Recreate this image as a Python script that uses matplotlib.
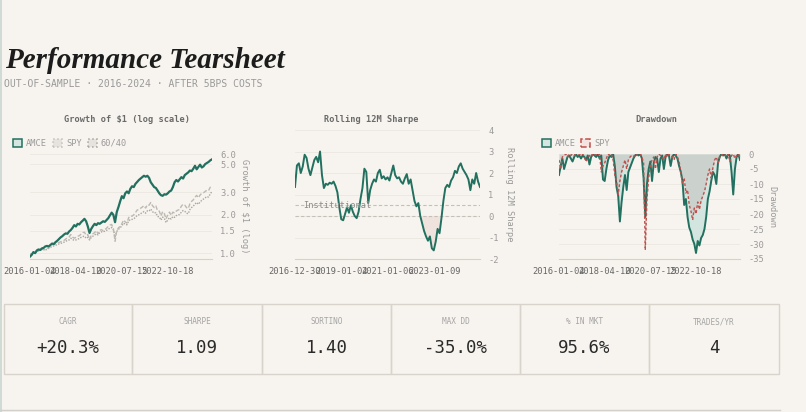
import numpy as np
import pandas as pd
import matplotlib
matplotlib.use('Agg')
import matplotlib.pyplot as plt
from matplotlib.patches import Rectangle
import matplotlib.ticker as mticker

plt.rcParams['axes.unicode_minus'] = False
MONO = 'DejaVu Sans Mono'

# ---- data (monthly) ----
amce_growth = [
    0.94, 0.97, 1.02, 1.00, 1.05, 1.07, 1.06, 1.09, 1.10, 1.13, 1.14, 1.13,
    1.16, 1.19, 1.18, 1.22, 1.25, 1.29, 1.33, 1.36, 1.40, 1.43, 1.42, 1.48,
    1.52, 1.58, 1.66, 1.62, 1.70, 1.68, 1.75, 1.80, 1.86, 1.78, 1.62, 1.44,
    1.55, 1.63, 1.70, 1.66, 1.72, 1.70, 1.74, 1.78, 1.76, 1.82, 1.88, 1.98,
    2.08, 2.00, 1.75, 2.10, 2.30, 2.55, 2.80, 2.70, 2.95, 3.05, 2.95, 3.20,
    3.35, 3.30, 3.50, 3.62, 3.75, 3.85, 3.95, 4.05, 3.98, 4.05, 3.90, 3.60,
    3.45, 3.30, 3.25, 3.10, 2.95, 2.85, 2.82, 2.90, 2.88, 2.95, 3.05, 3.10,
    3.30, 3.60, 3.75, 3.65, 3.80, 3.95, 3.85, 4.10, 4.20, 4.30, 4.45, 4.40,
    4.60, 4.85, 4.55, 4.75, 4.95, 4.70, 4.80, 5.00, 5.10, 5.20, 5.35, 5.45,
]
spy_growth = [
    0.97, 0.99, 1.01, 1.02, 1.03, 1.04, 1.06, 1.07, 1.07, 1.06, 1.09, 1.11,
    1.13, 1.16, 1.17, 1.18, 1.20, 1.21, 1.23, 1.24, 1.26, 1.29, 1.32, 1.34,
    1.40, 1.34, 1.31, 1.33, 1.36, 1.37, 1.41, 1.45, 1.46, 1.38, 1.40, 1.28,
    1.38, 1.42, 1.45, 1.50, 1.42, 1.51, 1.53, 1.50, 1.53, 1.57, 1.62, 1.66,
    1.68, 1.56, 1.24, 1.50, 1.58, 1.62, 1.70, 1.82, 1.76, 1.72, 1.90, 1.96,
    1.95, 2.00, 2.08, 2.18, 2.20, 2.25, 2.30, 2.36, 2.26, 2.40, 2.38, 2.50,
    2.36, 2.28, 2.35, 2.15, 2.14, 1.96, 2.12, 2.04, 1.86, 2.00, 2.10, 1.98,
    2.10, 2.06, 2.14, 2.18, 2.20, 2.34, 2.42, 2.38, 2.28, 2.24, 2.44, 2.55,
    2.62, 2.75, 2.84, 2.72, 2.86, 2.95, 2.98, 3.05, 3.12, 3.10, 3.30, 3.40,
]
b6040_growth = [
    0.98, 0.99, 1.01, 1.02, 1.03, 1.05, 1.06, 1.06, 1.07, 1.06, 1.07, 1.09,
    1.11, 1.13, 1.14, 1.15, 1.17, 1.18, 1.19, 1.21, 1.22, 1.24, 1.26, 1.27,
    1.31, 1.28, 1.26, 1.27, 1.29, 1.30, 1.33, 1.35, 1.36, 1.31, 1.33, 1.27,
    1.33, 1.36, 1.39, 1.42, 1.39, 1.45, 1.47, 1.47, 1.49, 1.51, 1.54, 1.57,
    1.59, 1.53, 1.34, 1.48, 1.54, 1.58, 1.64, 1.72, 1.69, 1.67, 1.79, 1.84,
    1.84, 1.86, 1.91, 1.98, 2.00, 2.04, 2.08, 2.12, 2.06, 2.15, 2.14, 2.22,
    2.12, 2.06, 2.08, 1.94, 1.93, 1.82, 1.92, 1.87, 1.74, 1.82, 1.90, 1.85,
    1.94, 1.91, 1.97, 2.00, 2.01, 2.10, 2.16, 2.13, 2.06, 2.04, 2.20, 2.28,
    2.34, 2.43, 2.50, 2.42, 2.52, 2.60, 2.66, 2.72, 2.78, 2.76, 2.92, 3.05,
]
sharpe_12m = [
    1.35,
    2.35, 2.45, 2.00, 2.30, 2.85, 2.70, 2.20, 1.90, 2.25, 2.60, 2.75, 2.50,
    3.00, 1.90, 1.30, 1.50, 1.45, 1.55, 1.50, 1.60, 1.40, 1.10, 0.40, -0.15,
    -0.20, 0.10, 0.40, 0.15, 0.50, 0.20, 0.00, -0.10, 0.20, 0.80, 1.30, 2.20,
    2.05, 0.60, 1.20, 1.50, 1.70, 1.60, 2.00, 2.15, 1.75, 1.85, 1.70, 1.80,
    1.65, 2.00, 2.35, 1.90, 1.75, 1.80, 1.60, 1.50, 1.75, 1.95, 1.50, 1.70,
    1.20, 0.70, 0.45, 0.60, 0.00, -0.35, -0.70, -0.95, -1.15, -0.95, -1.50, -1.60,
    -1.20, -0.60, -0.80, -0.10, 0.70, 1.30, 1.45, 1.35, 1.65, 1.80, 2.10, 2.00,
    2.30, 2.45, 2.20, 2.05, 1.90, 1.70, 1.20, 1.70, 1.50, 2.00, 1.60, 1.35,
]
amce_dd = [
    -7, -4, -1.5, -5, -3, -1, -0.5, -1.5, -2.5, -1, 0, -1,
    -0.5, -1.5, -0.5, -1, -2, -0.5, -3.5, -1, 0, -0.5, -1, 0,
    -1.5, -0.5, -8.5, -9, -5, -2, -0.5, -1, 0, -4, -11, -14,
    -22.5, -16, -11, -7, -12, -6, -4.5, -3, -1.5, -0.5, 0, -0.5,
    0, -1.5, -8, -21, -10, -5, -2.5, -9, -3, -1, -1.5, -6,
    -1.5, -0.5, -5, -1, 0, -0.5, -4, -1, 0, -0.5, -1.5, -4,
    -6, -9, -17, -15, -21, -24.5, -26, -28.5, -30, -33, -29, -30.5,
    -28, -27, -25, -21, -15, -12.5, -9, -6, -7, -10, -3, -1,
    0, -0.5, 0, -1.5, 0, -0.5, -6, -13.5, -5, -1, 0, -2,
]
spy_dd = [
    -2, -5, -1, -0.5, 0, -1, 0, -0.5, 0, -0.5, 0, 0,
    0, -0.5, 0, -1, -2.5, -1.5, -0.5, -1, 0, -0.5, 0, -0.5,
    0, -6, -4, -3, -1.5, 0, -0.5, 0, -2, -7, -9, -13.5,
    -9, -6, -4, -2, -5, -2, -1, -0.5, -1, 0, -0.5, 0,
    0, -1, -3, -32, -15, -8, -4, -2, -1, -5, -1, 0,
    -0.5, -1, -2, 0, -1, 0, -0.5, -1, -2, 0, -1, -2.5,
    -6, -10, -8, -13, -12, -17, -19, -22, -18, -20, -16, -18.5,
    -15.5, -14, -12.5, -10, -7, -5, -8, -4.5, -2, -1, -3, -1,
    0, -0.5, 0, -1, 0, -2.5, -0.5, 0, -1.5, -0.5, 0, -1,
]

growth_ticks = ['2016-01-04', '2018-04-10', '2020-07-15', '2022-10-18']
sharpe_ticks = ['2016-12-30', '2019-01-04', '2021-01-06', '2023-01-09']

metric_labels = ['CAGR', 'SHARPE', 'SORTINO', 'MAX DD', '% IN MKT', 'TRADES/YR']
metric_values = ['+20.3%', '1.09', '1.40', '-35.0%', '95.6%', '4']

dates = pd.date_range('2016-01-04', '2024-12-31', periods=len(amce_growth))
sdates = pd.date_range('2016-12-30', '2024-12-31', periods=len(sharpe_12m))

# ---- style ----
BG = '#f7f4ef'
TEAL = '#22705f'
RED = '#c0504d'
GRID = '#ebe7e0'

W, H = 806, 412
fig = plt.figure(figsize=(W / 100, H / 100), dpi=100, facecolor=BG)


def box(x0, y0, x1, y1):
    return [x0 / W, 1 - y1 / H, (x1 - x0) / W, (y1 - y0) / H]


def fx(x):
    return x / W


def fy(y):
    return 1 - y / H


def style(ax):
    ax.set_facecolor(BG)
    for s in ['top', 'left', 'right']:
        ax.spines[s].set_visible(False)
    ax.spines['bottom'].set_color('#d6d2ca')
    ax.spines['bottom'].set_linewidth(0.8)
    ax.yaxis.tick_right()
    ax.yaxis.set_label_position('right')
    ax.tick_params(length=0)
    ax.tick_params(axis='x', labelsize=6.3, labelcolor='#666666', pad=6)
    ax.tick_params(axis='y', labelsize=6.3, labelcolor='#9a9a9a', pad=6)
    for lab in ax.get_xticklabels() + ax.get_yticklabels():
        lab.set_family(MONO)
    ax.grid(axis='y', color=GRID, lw=0.6)
    ax.set_axisbelow(True)


def legend_item(x, y, label, fc, ec, ls):
    fig.add_artist(Rectangle((fx(x), fy(y + 4)), 9 / W, 8 / H, transform=fig.transFigure,
                             fc=fc, ec=ec, lw=1.1, ls=ls))
    fig.text(fx(x + 13), fy(y), label, family=MONO, size=6.2, color='#9a9a9a', va='center')


# ---- growth of $1 ----
ax1 = fig.add_axes(box(30, 154, 212, 259))
ax1.plot(dates, b6040_growth, color='#a9a69f', lw=1.0, ls=(0, (1, 1)))
ax1.plot(dates, spy_growth, color='#bdb9b2', lw=1.0, ls=(0, (3, 1.5)))
ax1.plot(dates, amce_growth, color=TEAL, lw=1.6)
ax1.set_yscale('log')
ax1.set_ylim(0.9, 6.0)
ax1.yaxis.set_major_locator(mticker.FixedLocator([1.0, 1.5, 2.0, 3.0, 5.0, 6.0]))
ax1.yaxis.set_major_formatter(mticker.FuncFormatter(lambda v, p: f'{v:.1f}'))
ax1.yaxis.set_minor_locator(mticker.NullLocator())
ax1.set_xlim(dates[0], dates[-1])
ax1.set_xticks(pd.to_datetime(growth_ticks))
ax1.set_xticklabels(growth_ticks)
style(ax1)
ax1.set_ylabel('Growth of $1 (log)', family=MONO, size=6.3, color='#9a9a9a', rotation=270,
               labelpad=9)
fig.text(fx(127), fy(119), 'Growth of \\$1 (log scale)', family=MONO, size=6.2,
         weight='bold', color='#6a6a6a', ha='center', va='center')
legend_item(13, 143, 'AMCE', '#d5e5e0', TEAL, '-')
legend_item(53, 143, 'SPY', '#e6e3de', '#c4c1ba', ':')
legend_item(88, 143, '60/40', '#e6e3de', '#a9a69f', ':')

# ---- rolling sharpe ----
ax2 = fig.add_axes(box(295, 130, 480, 259))
sh = np.array(sharpe_12m)
ax2.fill_between(sdates, sh, 0, where=sh < 0, interpolate=True, color='#f0e2dd', lw=0)
ax2.axhline(0.5, color='#c4c0b8', lw=0.8, ls=(0, (3, 2)))
ax2.axhline(0, color='#c4c0b8', lw=0.8, ls=(0, (3, 2)))
ax2.plot(sdates, sh, color=TEAL, lw=1.4)
ax2.text(pd.Timestamp('2017-05-01'), 0.5, 'Institutional', family=MONO, size=6.2,
         color='#8a8a8a', va='center', ha='left')
ax2.set_ylim(-2, 4)
ax2.set_yticks(range(-2, 5))
ax2.set_xlim(sdates[0], sdates[-1])
ax2.set_xticks(pd.to_datetime(sharpe_ticks))
ax2.set_xticklabels(sharpe_ticks)
style(ax2)
ax2.set_ylabel('Rolling 12M Sharpe', family=MONO, size=6.3, color='#9a9a9a', rotation=270,
               labelpad=11)
fig.text(fx(371), fy(119), 'Rolling 12M Sharpe', family=MONO, size=6.2,
         weight='bold', color='#6a6a6a', ha='center', va='center')

# ---- drawdown ----
ax3 = fig.add_axes(box(559, 154, 740, 259))
ax3.fill_between(dates, amce_dd, 0, color='#d3e5df', lw=0)
ax3.fill_between(dates, spy_dd, 0, color='#c6c5c0', alpha=0.6, lw=0)
ax3.plot(dates, amce_dd, color=TEAL, lw=1.4)
ax3.plot(dates, spy_dd, color=RED, lw=1.0, ls=(0, (2, 1.5)))
ax3.set_ylim(-35, 0)
ax3.set_yticks(range(-35, 1, 5))
ax3.set_xlim(dates[0], dates[-1])
ax3.set_xticks(pd.to_datetime(growth_ticks))
ax3.set_xticklabels(growth_ticks)
style(ax3)
ax3.set_ylabel('Drawdown', family=MONO, size=6.3, color='#9a9a9a', rotation=270, labelpad=9)
fig.text(fx(656), fy(119), 'Drawdown', family=MONO, size=6.2,
         weight='bold', color='#6a6a6a', ha='center', va='center')
legend_item(542, 143, 'AMCE', '#d5e5e0', TEAL, '-')
legend_item(581, 143, 'SPY', '#f4e4e0', RED, '--')

# ---- header ----
fig.text(fx(5), fy(68), 'Performance Tearsheet', family='Liberation Serif', style='italic',
         weight='bold', size=21, color='#1c1c1c', va='baseline')
fig.text(fx(4), fy(84), 'OUT-OF-SAMPLE · 2016-2024 · AFTER 5BPS COSTS', family=MONO,
         size=7, color='#9a9a9a', va='center')

# ---- metric cards ----
x_edges = [4, 132, 262, 391, 520, 649, 779]
for i, (lab, val) in enumerate(zip(metric_labels, metric_values)):
    x0, x1 = x_edges[i], x_edges[i + 1]
    fig.add_artist(Rectangle((fx(x0), fy(374)), (x1 - x0) / W, 70 / H,
                             transform=fig.transFigure, fill=False, ec='#d8d3cb', lw=1))
    cx = (x0 + x1) / 2
    fig.text(fx(cx), fy(322), lab, family=MONO, size=5.6, color='#a5a5a5',
             ha='center', va='center')
    fig.text(fx(cx), fy(348), val, family=MONO, size=12.5, color='#2a2a2a',
             ha='center', va='center')

# page edges
fig.add_artist(plt.Line2D([fx(1), fx(1)], [0, 1], transform=fig.transFigure,
                          color='#c8d6cf', lw=1.2))
fig.add_artist(plt.Line2D([0, fx(780)], [fy(410), fy(410)], transform=fig.transFigure,
                          color='#d2d0cb', lw=1))

fig.savefig('out.png', dpi=100, facecolor=BG)
